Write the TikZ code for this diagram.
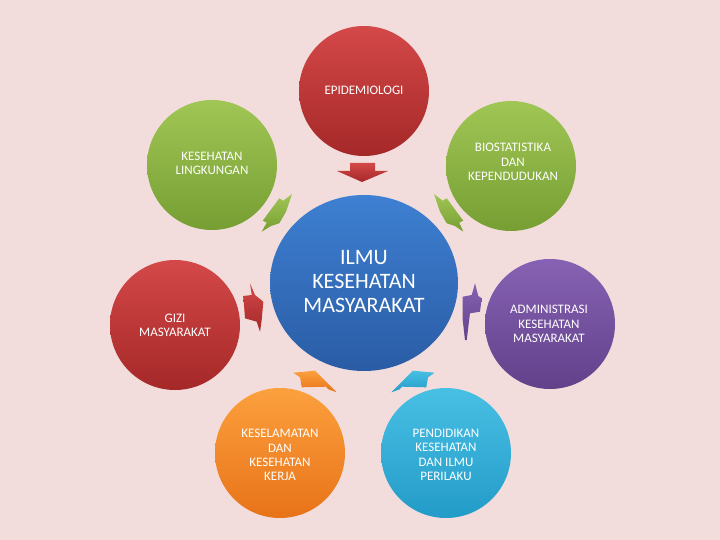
\documentclass[tikz,border=0pt]{standalone}
\usepackage{fontspec}
\setmainfont{Carlito}
\usetikzlibrary{shapes.geometric}
\definecolor{bg}{RGB}{242,221,220}
\definecolor{redT}{RGB}{212,72,72}
\definecolor{redB}{RGB}{165,40,40}
\definecolor{grnT}{RGB}{160,198,85}
\definecolor{grnB}{RGB}{118,158,50}
\definecolor{bluT}{RGB}{62,128,210}
\definecolor{bluB}{RGB}{42,92,165}
\definecolor{purT}{RGB}{135,98,180}
\definecolor{purB}{RGB}{98,65,138}
\definecolor{orgT}{RGB}{252,160,62}
\definecolor{orgB}{RGB}{232,115,25}
\definecolor{cyaT}{RGB}{72,192,228}
\definecolor{cyaB}{RGB}{35,155,200}
\begin{document}
\begin{tikzpicture}[x=1pt,y=-1pt,
  disc/.style={circle, minimum size=130pt, inner sep=0pt, draw=none},
  lbl/.style={text=white, align=center, font=\fontsize{13}{14.3}\selectfont, inner sep=0pt},
  biglbl/.style={text=white, align=center, font=\fontsize{22}{24}\selectfont, inner sep=0pt},
  redsh/.style={top color=redT, bottom color=redB},
  grnsh/.style={top color=grnT, bottom color=grnB},
  blush/.style={top color=bluT, bottom color=bluB},
  pursh/.style={top color=purT, bottom color=purB},
  orgsh/.style={top color=orgT, bottom color=orgB},
  cyash/.style={top color=cyaT, bottom color=cyaB}]
\fill[bg] (0,0) rectangle (720,540);
\useasboundingbox (0,0) rectangle (720,540);

% circles
\node[disc, redsh] (epi) at (364,91) {};
\node[disc, grnsh] (kl) at (212,165) {};
\node[disc, grnsh] (bio) at (511,166) {};
\node[disc, redsh] (gizi) at (175,325) {};
\node[disc, pursh] (adm) at (550,324) {};
\node[disc, orgsh] (k3) at (280,453) {};
\node[disc, cyash] (pkip) at (446,453) {};
\node[ellipse, minimum width=188pt, minimum height=176pt, inner sep=0pt, blush] (ikm) at (364,283) {};

% labels
\node[lbl] (tepi) at (364,90) {EPIDEMIOLOGI};
\node[lbl] (tkl) at (212,163) {KESEHATAN\\LINGKUNGAN};
\node[lbl] (tbio) at (513,162) {BIOSTATISTIKA\\DAN\\KEPENDUDUKAN};
\node[lbl] (tgizi) at (175,325) {GIZI\\MASYARAKAT};
\node[lbl] (tadm) at (549,324) {ADMINISTRASI\\KESEHATAN\\MASYARAKAT};
\node[lbl] (tk3) at (280,455) {KESELAMATAN\\DAN\\KESEHATAN\\KERJA};
\node[lbl] (tpkip) at (446,455) {PENDIDIKAN\\KESEHATAN\\DAN ILMU\\PERILAKU};
\node[biglbl] (tikm) at (364,282) {ILMU\\KESEHATAN\\MASYARAKAT};

% arrows toward the centre
\shade[redsh] (350,163) -- (375,163) -- (375,171) -- (388,171) -- (362,182) -- (337,171) -- (350,171) -- cycle;
\shade[grnsh] (292,194) -- (283.3,200.7) -- (279.3,198.3) -- (262.7,220.7) -- (266.7,222.7) -- (261.7,231.7) -- (271,226) -- (279.3,223.3) -- (286,211.7) -- cycle;
\shade[grnsh] (434,194) -- (442.7,200.7) -- (446.7,198.3) -- (463.3,220.7) -- (459.3,222.7) -- (463.3,231.7) -- (455,226) -- (446.7,223.3) -- (440,211.7) -- cycle;
\shade[redsh] (250,283.3) -- (255,295) -- (263.3,301.7) -- (261.7,320) -- (260,331.7) -- (256.7,321.7) -- (245,318.3) -- (243.3,296) -- (251.7,295) -- cycle;
\shade[pursh] (475,283.3) -- (478.3,296) -- (481.7,298.3) -- (480,311.7) -- (470,313.3) -- (466.7,340) -- (465,340) -- (462.7,320) -- (462.7,296.7) -- (471.7,295) -- cycle;
\shade[orgsh] (293.3,372.7) -- (315,370.7) -- (336.7,392.3) -- (328.3,389.3) -- (326,386.7) -- (301.7,387.3) -- (300,377.3) -- cycle;
\shade[cyash] (434.7,372.7) -- (413,370.7) -- (391.3,392.3) -- (399.7,389.3) -- (402,386.7) -- (426.3,387.3) -- (428,377.3) -- cycle;
\end{tikzpicture}
\end{document}
